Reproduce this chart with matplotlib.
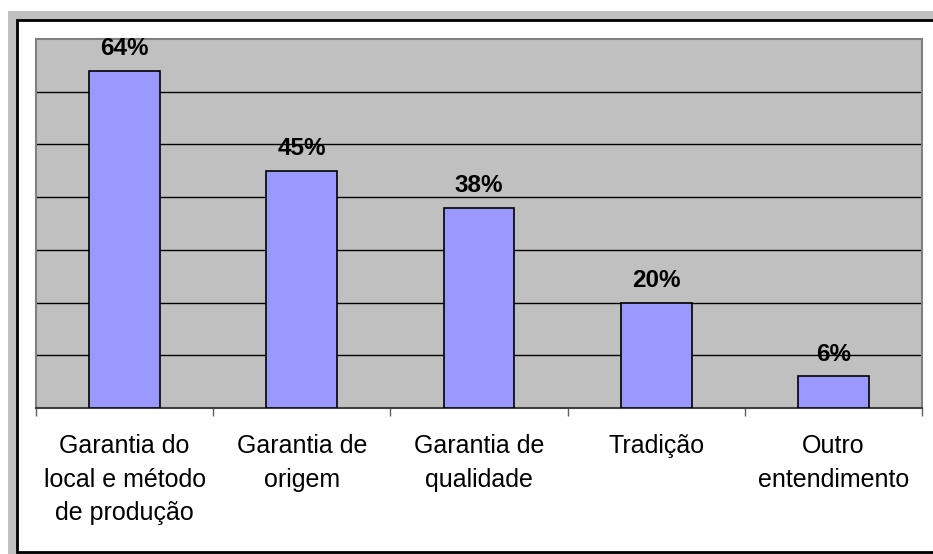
import numpy as np
import matplotlib.pyplot as plt
from matplotlib.patches import Rectangle

# Data
categories = ["Garantia do\nlocal e método\nde produção", "Garantia de\norigem",
              "Garantia de\nqualidade", "Tradição", "Outro\nentendimento"]
values = [0.64, 0.45, 0.38, 0.20, 0.06]
value_labels = ["64%", "45%", "38%", "20%", "6%"]

W, H = 933, 554
fig = plt.figure(figsize=(W / 100, H / 100), dpi=100, facecolor="white")
plt.rcParams["font.family"] = ["Liberation Sans", "DejaVu Sans"]

# Gray frame and white chart area with black border (cropped screenshot look)
fig.patches.append(Rectangle((8 / W, 0), 1, 1 - 11 / H, transform=fig.transFigure,
                             facecolor="#c0c0c0", edgecolor="none", zorder=0))
fig.patches.append(Rectangle((17 / W, 1 - 552 / H), 1.2, (552 - 20) / H,
                             transform=fig.transFigure, facecolor="white",
                             edgecolor="black", linewidth=2, zorder=1))

ax = fig.add_axes([36 / W, 1 - 408 / H, (922 - 36) / W, (408 - 39) / H])
ax.set_facecolor("#c0c0c0")
ax.set_zorder(2)

x = np.arange(len(categories))
ax.bar(x, values, width=0.4, color="#9999ff", edgecolor="black", linewidth=1.2, zorder=3)

for xi, v, lab in zip(x, values, value_labels):
    ax.annotate(lab, (xi, v), xytext=(0, 7.5), textcoords="offset points",
                ha="center", va="bottom", fontsize=17.5, fontweight="bold", zorder=4)

ax.set_xlim(-0.5, len(categories) - 0.5)
ax.set_ylim(0, 0.7)
ax.set_yticks(np.arange(0.1, 0.7, 0.1))
ax.yaxis.grid(True, color="black", linewidth=1)
ax.set_axisbelow(True)
ax.tick_params(axis="y", length=0, labelleft=False)

ax.set_xticks(np.arange(-0.5, len(categories), 1.0))
ax.set_xticklabels([])
ax.tick_params(axis="x", which="major", direction="out", length=6, color="#606060", width=1)
ax.set_xticks(x, minor=True)
ax.set_xticklabels(categories, minor=True, fontsize=18, linespacing=1.5, va="top")
ax.tick_params(axis="x", which="minor", length=0, pad=19)

for side in ["left", "top", "right"]:
    ax.spines[side].set_color("#808080")
    ax.spines[side].set_linewidth(1.5)
ax.spines["bottom"].set_color("#404040")
ax.spines["bottom"].set_linewidth(1.5)

fig.savefig("out.png", dpi=100, facecolor="white")
